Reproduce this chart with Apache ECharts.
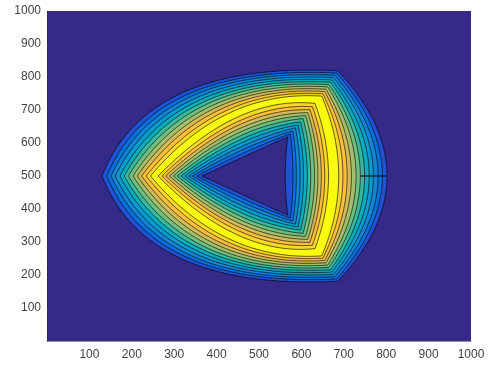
<!DOCTYPE html>
<html><head><meta charset="utf-8">
<script src="https://cdn.jsdelivr.net/npm/echarts@6/dist/echarts.min.js"></script>
<style>html,body{margin:0;padding:0;background:#fff}#c{width:489px;height:365px}</style>
</head><body><div id="c"></div>
<script>
// Tick values shown on both axes
const tickValues = [100, 200, 300, 400, 500, 600, 700, 800, 900, 1000];

// Band colours (parula), band 0 = background / hole, band 12 = ridge
const bandColors = ['#352A87','#2053D4','#0871DE','#1485D4','#079CCF','#0AACBE','#38B99E',
                    '#71BF80','#A5BE6B','#D1BB59','#FDBE3D','#F7D826','#F9FB0E'];

// Outer contour curves (levels 1..12), shape is symmetric about y = 500
// L: left tip x; R: rightmost x at y=500; T: top-right corner; C: control point of upper-left edge
const outerL  = [130, 141, 151, 161, 172, 182, 192, 203, 213, 223, 234, 244];
const outerR  = [802, 791, 781, 770, 760, 749, 739, 729, 718, 708, 698, 688];
const outerTx = [686, 683, 679, 676, 672, 669, 665, 662, 658, 655, 651, 648];
const outerTy = [819, 812, 805, 798, 791, 784, 777, 770, 763, 756, 749, 742];
const outerCx = [235, 251, 268, 284, 301, 317, 334, 350, 367, 383, 400, 416];
const outerCy = [847, 839, 832, 824, 817, 809, 802, 794, 786, 778, 770, 762];

// Inner contour curves (levels 1..12), level 1 = triangular hole
const innerL  = [365, 353, 343, 334, 325, 316, 307, 298, 289, 280, 271, 262];
const innerR  = [562, 580, 588, 597, 605, 614, 622, 631, 639, 647, 655, 664];
const innerTx = [568, 574, 580, 586, 592, 598, 604, 610, 615, 620, 626, 632];
const innerTy = [619, 628, 637, 646, 655, 664, 674, 683, 692, 701, 710, 720];
const innerCx = [466, 465, 463, 462, 461, 459, 458, 456, 454, 452, 450, 448];
const innerCy = [560, 576, 592, 608, 625, 641, 657, 674, 690, 707, 724, 745];

// Short black contour segment on the right
const segX = [740, 800];
const segY = [500, 500];

const N = outerL.length;
const curves = [];
for (let k = 0; k < N; k++) {
  curves.push({L: outerL[k], R: outerR[k], Tx: outerTx[k], Ty: outerTy[k], Cx: outerCx[k], Cy: outerCy[k], color: bandColors[k + 1]});
}
for (let k = N - 1; k >= 0; k--) {
  curves.push({L: innerL[k], R: innerR[k], Tx: innerTx[k], Ty: innerTy[k], Cx: innerCx[k], Cy: innerCy[k], color: bandColors[k]});
}

function quad(pts, a, c, b, n) {
  for (let i = 0; i < n; i++) {
    const t = i / n, u = 1 - t;
    pts.push([u*u*a[0] + 2*u*t*c[0] + t*t*b[0], u*u*a[1] + 2*u*t*c[1] + t*t*b[1]]);
  }
}

function renderItem(params, api) {
  const c = curves[api.value(0)];
  const L = api.coord([c.L, 500]);
  const T = api.coord([c.Tx, c.Ty]);
  const B = api.coord([c.Tx, 1000 - c.Ty]);
  const Cu = api.coord([c.Cx, c.Cy]);
  const Cl = api.coord([c.Cx, 1000 - c.Cy]);
  const Cr = api.coord([2 * c.R - c.Tx, 500]);
  const pts = [];
  quad(pts, L, Cu, T, 40);
  quad(pts, T, Cr, B, 40);
  quad(pts, B, Cl, L, 40);
  return {type: 'polygon', shape: {points: pts}, style: {fill: c.color, stroke: '#000', lineWidth: 0.6}};
}

const fmt = v => tickValues.indexOf(v) >= 0 ? String(v) : '';
const axisCommon = {
  type: 'value', min: 0, max: 1000, interval: 100,
  axisLine: {show: true, onZero: false, lineStyle: {color: '#262626', width: 0.5}},
  axisTick: {show: false},
  splitLine: {show: false},
  axisLabel: {formatter: fmt, color: '#404040', fontSize: 12, fontFamily: 'Liberation Sans, Arial, sans-serif'}
};

const chart = echarts.init(document.getElementById('c'), null, {renderer: 'canvas'});
chart.setOption({
  animation: false,
  grid: {left: 47, right: 18, top: 11, bottom: 24, show: true, backgroundColor: bandColors[0], borderWidth: 0},
  xAxis: Object.assign({}, axisCommon, {axisLabel: Object.assign({}, axisCommon.axisLabel, {margin: 8})}),
  yAxis: Object.assign({}, axisCommon, {axisLabel: Object.assign({}, axisCommon.axisLabel, {margin: 6})}),
  series: [
    {type: 'custom', renderItem: renderItem, data: curves.map((c, i) => [i]), encode: {x: -1, y: -1}, silent: true},
    {type: 'line', data: segX.map((x, i) => [x, segY[i]]), symbol: 'none', lineStyle: {color: '#000', width: 1}, silent: true}
  ]
});
</script></body></html>
